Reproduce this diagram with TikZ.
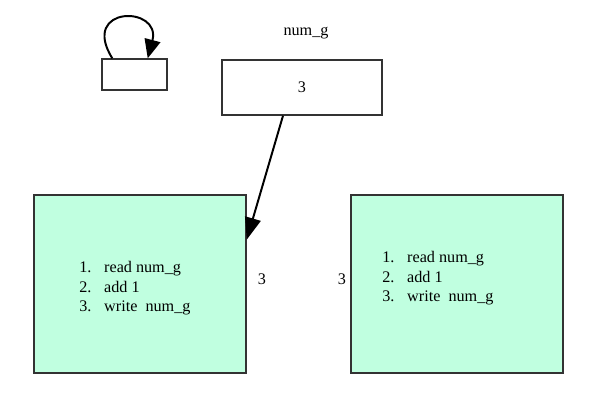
\documentclass[tikz,border=0pt]{standalone}
\usepackage{fontspec}
\setmainfont{Liberation Serif}
\usetikzlibrary{arrows.meta,calc,positioning}
\definecolor{taskgreen}{RGB}{192,255,224}
\definecolor{boxline}{RGB}{51,51,51}

\newcommand{\steplist}{%
  \begin{tabular}{@{}r@{\hspace{0.32cm}}l@{}}
    1.& read num\_g\\
    2.& add 1\\
    3.& write\ \ num\_g
  \end{tabular}}

\begin{document}
\begin{tikzpicture}[x=0.025cm,y=-0.025cm,
    font=\fontsize{11.5}{14.2}\selectfont,
    box/.style={draw=boxline,line width=1pt,inner sep=0},
    taskbox/.style={box,fill=taskgreen,minimum width=5.3cm,minimum height=4.45cm},
    link/.style={line width=1.4pt,-{Triangle[length=0.55cm,width=0.4cm]}}]
        \useasboundingbox (0,0) rectangle (589,403);

        % Self loop block
        \node[box,
        minimum width=1.625cm,
        minimum height=0.775cm] (loopbox) at (134.5,74.5) {};

        % Shared variable
        \node[box,
        minimum width=4cm,
        minimum height=1.375cm] (numg) at (302,87.5) {3};
        \node (numglabel) at (306,33) {num\_g};

        % Tasks
        \node[taskbox] (taskA) at (140,284) {};
        \node[taskbox] (taskB) at (457,284) {};
        \node[anchor=west,inner sep=0] (stepsA) at (79,288) {\steplist};
        \node[anchor=west,inner sep=0] (stepsB) at (382,278) {\steplist};

        % Values between tasks
        \node (valA) at (262,279) {3};
        \node (valB) at (342,279) {3};

        % Arrows
        \draw[link,-{Triangle[length=0.47cm,width=0.4cm]}] ($(loopbox.north west)+(11,0)$)
            .. controls +(-33,-53) and +(14,-53) .. ($(loopbox.north east)+(-20,0)$);

        \draw[link] ($(numg.south)+(-19,0)$)
            -- ($(taskA.north east)!0.253!(taskA.south east)$);
    \end{tikzpicture}
\end{document}
